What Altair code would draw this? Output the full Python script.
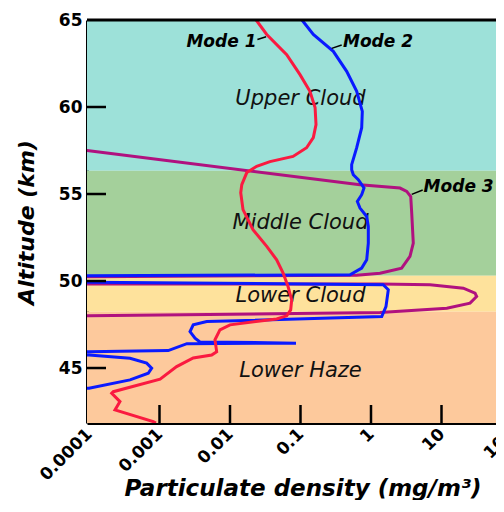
import altair as alt
import pandas as pd

# ---------------- data ----------------
band_names = ["Upper Cloud", "Middle Cloud", "Lower Cloud", "Lower Haze"]
band_bottom = [56.33, 50.30, 48.24, 41.84]
band_top = [65.0, 56.33, 50.30, 48.24]
band_colors = ["#9de1d9", "#a4d09b", "#fee29c", "#fdc99c"]
band_label_alt = [60.46, 53.36, 49.14, 44.83]
band_label_x = [0.1, 0.1, 0.1, 0.1]

x_ticks = [0.0001, 0.001, 0.01, 0.1, 1, 10]
x_extra_label = [100]
y_ticks = [45, 50, 55, 60, 65]
x_inner_ticks = [0.001, 0.01, 0.1, 1, 10]
y_inner_ticks = [45, 50, 55, 60]

mode1_alt = [65.0, 64.17, 63.01, 61.86, 60.90, 59.97, 58.99, 58.24, 57.66, 57.16, 56.86,
             56.59, 56.23, 55.54, 55.07, 54.10, 52.95, 51.99, 51.22, 50.47, 49.68, 48.92,
             48.34, 48.00, 47.82, 47.48, 47.19, 46.62, 45.94, 45.75, 45.58, 45.08, 44.36,
             43.64, 43.55, 43.07, 42.59, 41.92, 41.84]
mode1_val = [0.0235, 0.0332, 0.0637, 0.0984, 0.136, 0.161, 0.166, 0.152, 0.122, 0.0784, 0.0369,
             0.0239, 0.0173, 0.0147, 0.0142, 0.0153, 0.0212, 0.0332, 0.0459, 0.0565, 0.0666, 0.075,
             0.0726, 0.0637, 0.0459, 0.010, 0.0072, 0.00612, 0.00647, 0.0055, 0.00301, 0.00175, 0.00102,
             0.000221, 0.00021, 0.000275, 0.000234, 0.000817, 0.00089]

mode2_alt = [65.0, 64.17, 63.20, 62.05, 60.90, 59.75, 58.81, 57.66, 56.69, 56.40, 56.11, 55.82,
             55.35, 54.96, 54.57, 54.19, 53.71, 53.14, 52.18, 51.22, 50.74, 50.36, 50.30, 50.10,
             49.93, 49.79, 49.50, 48.53, 47.96, 47.67, 47.48, 47.09, 46.71, 46.50, 46.43, 46.40,
             46.00, 45.94, 45.85, 45.75, 45.56, 45.28, 44.99, 44.70, 44.32, 43.84, 43.50]
mode2_val = [0.105, 0.152, 0.292, 0.452, 0.627, 0.753, 0.738, 0.627, 0.532, 0.532, 0.561, 0.661,
             0.796, 0.738, 0.64, 0.698, 0.869, 0.916, 0.916, 0.869, 0.738, 0.504, 0.0001, 0.000001,
             0.0001, 1.49, 1.76, 1.63, 1.42, 0.00468, 0.00301, 0.00271, 0.00319, 0.00375, 0.0863, 0.00245,
             0.00133, 0.0001, 0.000001, 0.0001, 0.000382, 0.000658, 0.000774, 0.000693, 0.000382, 0.0001, 0.000001]

mode3_alt = [58.5, 57.49, 55.53, 55.34, 55.15, 54.86, 53.91, 52.18, 51.41, 50.74, 50.45, 50.33,
             50.25, 50.05, 49.83, 49.83, 49.78, 49.59, 49.30, 49.11, 48.73, 48.44, 48.19, 48.00, 47.80]
mode3_val = [0.000001, 0.0001, 0.698, 2.58, 3.21, 3.66, 3.78, 3.98, 3.57, 2.72, 1.34, 0.627,
             0.0001, 0.000001, 0.0001, 1.34, 6.87, 20.4, 29.9, 31.5, 25.4, 11.9, 1.34, 0.0001, 0.000001]

series_names = ["Mode 1", "Mode 2", "Mode 3"]
series_colors = ["#fa1a40", "#0a1aff", "#b0117f"]

mode_label_x = [0.00757, 1.256, 17.5]
mode_label_alt = [63.42, 63.42, 55.14]
leader_x1 = [0.0245, 0.277, 3.78]
leader_x2 = [0.0325, 0.384, 5.41]
leader_y1 = [63.88, 63.37, 54.98]
leader_y2 = [64.04, 63.56, 55.23]

# ---------------- layout ----------------
W, H = 409, 403
FONT = "DejaVu Sans"

xscale = alt.Scale(type="log", domain=[9.37e-5, 59.3], nice=False)
yscale = alt.Scale(domain=[41.84, 65], nice=False, zero=False)

band_df = pd.DataFrame({"name": band_names, "bottom": band_bottom, "top": band_top})
line_df = pd.concat([
    pd.DataFrame({"series": s, "idx": range(len(a)), "alt": a, "val": v})
    for s, a, v in zip(series_names, [mode1_alt, mode2_alt, mode3_alt], [mode1_val, mode2_val, mode3_val])
])
label_df = pd.DataFrame({"text": band_names, "x": band_label_x, "y": band_label_alt})
mode_df = pd.DataFrame({"text": series_names, "x": mode_label_x, "y": mode_label_alt})
leader_df = pd.DataFrame({"x1": leader_x1, "x2": leader_x2, "y1": leader_y1, "y2": leader_y2})

y_axis = alt.Axis(values=y_ticks, ticks=False, grid=False, domainColor="black", domainWidth=3,
                  labelFont=FONT, labelFontSize=17, labelFontWeight="bold", labelColor="black",
                  labelPadding=5, labelBaseline="middle",
                  title="Altitude (km)", titleFont=FONT, titleFontSize=22, titleFontWeight="bold",
                  titleFontStyle="italic", titleColor="black", titleAngle=270, titleX=-54, titleY=202,
                  titleAlign="center", titleBaseline="alphabetic")
x_axis = alt.Axis(values=x_ticks, format="~g", ticks=False, grid=False, domainColor="black", domainWidth=3,
                  labelFont=FONT, labelFontSize=17, labelFontWeight="bold", labelColor="black",
                  labelAngle=315, labelAlign="right", labelBaseline="middle", labelPadding=8,
                  labelFlush=False, labelOverlap=False, labelBound=False,
                  title="Particulate density (mg/m³)", titleFont=FONT, titleFontSize=23, titleFontWeight="bold",
                  titleFontStyle="italic", titleColor="black", titleX=215.5, titleY=72,
                  titleAlign="center", titleBaseline="alphabetic")

bands = alt.Chart(band_df).mark_rect().encode(
    x=alt.value(0), x2=alt.value(W),
    y=alt.Y("bottom:Q", scale=yscale, axis=y_axis), y2="top:Q",
    color=alt.Color("name:N", scale=alt.Scale(domain=band_names, range=band_colors), legend=None),
)

region_text = alt.Chart(label_df).mark_text(font=FONT, fontSize=21, fontStyle="italic", color="#111",
                                            align="center", baseline="middle").encode(
    x=alt.X("x:Q", scale=xscale, axis=x_axis), y=alt.Y("y:Q", scale=yscale), text="text:N")

def line_layer(name, color):
    return alt.Chart(line_df).transform_filter(alt.datum.series == name).mark_line(
        strokeWidth=3, clip=True, color=color).encode(
        x=alt.X("val:Q", scale=xscale), y=alt.Y("alt:Q", scale=yscale), order="idx:Q")

lines = [line_layer(series_names[2], series_colors[2]),
         line_layer(series_names[1], series_colors[1]),
         line_layer(series_names[0], series_colors[0])]

xt = alt.Chart(pd.DataFrame({"v": x_inner_ticks})).mark_rule(color="black", strokeWidth=2.5).encode(
    x=alt.X("v:Q", scale=xscale), y=alt.value(H), y2=alt.value(H - 18))
yt = alt.Chart(pd.DataFrame({"v": y_inner_ticks})).mark_rule(color="black", strokeWidth=2.5).encode(
    y=alt.Y("v:Q", scale=yscale), x=alt.value(0), x2=alt.value(19))
top_border = alt.Chart(pd.DataFrame({"a": [0]})).mark_rule(color="black", strokeWidth=3).encode(
    x=alt.value(0), x2=alt.value(W), y=alt.value(0))

extra_label = alt.Chart(pd.DataFrame({"v": x_extra_label})).mark_text(
    font=FONT, fontSize=17, fontWeight="bold", color="black", angle=315, align="right",
    baseline="middle", clip=False).encode(
    x=alt.X("v:Q", scale=xscale), y=alt.value(H + 8), text=alt.Text("v:Q", format="~g"))

mode_text = alt.Chart(mode_df).mark_text(font=FONT, fontSize=17, fontStyle="italic", fontWeight="bold",
                                         color="black", align="center", baseline="alphabetic").encode(
    x=alt.X("x:Q", scale=xscale), y=alt.Y("y:Q", scale=yscale), text="text:N")
leaders = alt.Chart(leader_df).mark_rule(color="black", strokeWidth=1.5).encode(
    x=alt.X("x1:Q", scale=xscale), x2="x2:Q", y=alt.Y("y1:Q", scale=yscale), y2="y2:Q")

chart = alt.layer(bands, region_text, *lines, xt, yt, top_border, extra_label, mode_text, leaders).properties(
    width=W, height=H,
    autosize=alt.AutoSizeParams(type="none"),
    padding={"left": 79, "top": 12, "right": 0, "bottom": 77},
    background="white",
).configure_view(stroke=None)

chart.save("out.html", embed_options={"renderer": "svg", "actions": False})
